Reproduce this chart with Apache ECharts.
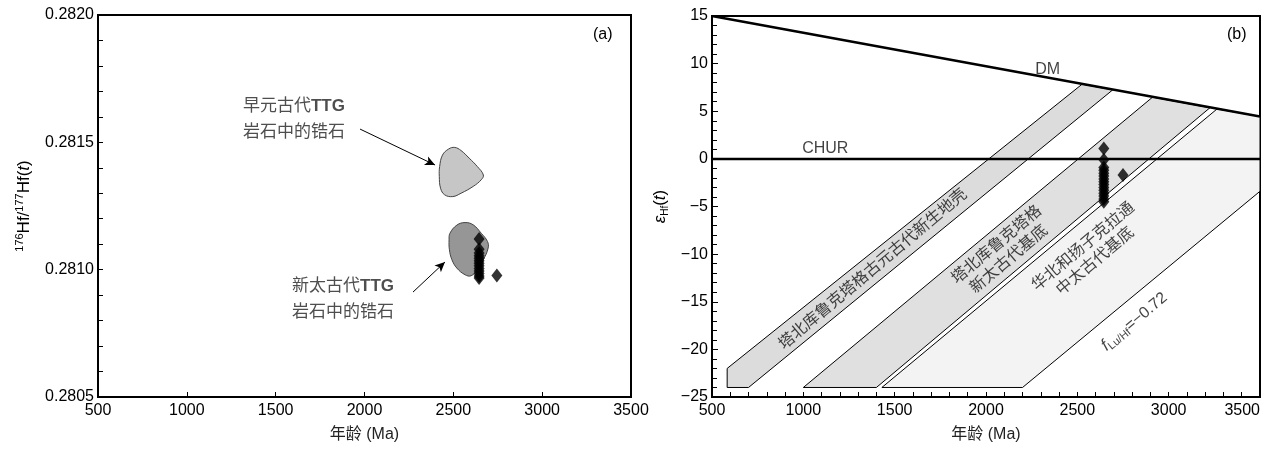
<!DOCTYPE html>
<html>
<head>
<meta charset="utf-8">
<script src="https://cdn.jsdelivr.net/npm/echarts@6/dist/echarts.min.js"></script>
<style>
  html, body { margin: 0; padding: 0; background: #fff; }
  #chart { width: 1281px; height: 450px; }
</style>
</head>
<body>
<div id="chart"></div>
<script>
// ---- (a) 176Hf/177Hf vs 年龄 ----
const earlyBlob = [
  [2421, 0.281366], [2423, 0.281405], [2439, 0.281450], [2474, 0.281474],
  [2508, 0.281480], [2543, 0.281468], [2589, 0.281438], [2635, 0.281405],
  [2669, 0.281372], [2657, 0.281353], [2612, 0.281327], [2543, 0.281300],
  [2497, 0.281287], [2451, 0.281294], [2428, 0.281320]
]
const lateBlob = [
  [2476, 0.281117], [2481, 0.281143], [2520, 0.281175], [2566, 0.281185],
  [2612, 0.281176], [2657, 0.281143], [2692, 0.281111], [2696, 0.281085],
  [2669, 0.281039], [2635, 0.281000], [2600, 0.280976], [2566, 0.280980],
  [2520, 0.281006], [2492, 0.281039], [2478, 0.281078]
]
const hfAge = 2645
const hfRatio = [0.28112, 0.28108, 0.281065, 0.281055, 0.281045, 0.281035, 0.281025,
  0.281015, 0.281005, 0.280995, 0.280985, 0.280975, 0.280967]
const hfExtra = [[2745, 0.280977]]
const notesA = [
  [1316, 0.281592, '早元古代{b|TTG}\n岩石中的锆石'],
  [1592, 0.280883, '新太古代{b|TTG}\n岩石中的锆石']
]
const arrowsA = [
  [[1975, 0.281552], [2397, 0.281411]],
  [[2273, 0.280912], [2453, 0.281030]]
]

// ---- (b) εHf(t) vs 年龄 ----
const dmLine = [[500, 15], [3500, 4.45]]
const churLine = [[500, 0], [3500, 0]]
const band1 = [[583, -22], [583, -24], [700, -24], [2694, 7.25], [2526, 7.84]]
const band2 = [[1000, -24], [1400, -24], [3226, 5.37], [2912, 6.48]]
const band3 = [[1430, -24], [2200, -24], [3500, -3.4], [3500, 4.45], [3265, 5.24]]
const epsAge = 2645
const epsHf = [1.1, -0.1, -0.9, -1.2, -1.5, -1.8, -2.1, -2.4, -2.7, -3.0, -3.3, -3.6, -3.9, -4.2, -4.5]
const epsExtra = [[2750, -1.7]]
const notesB = [
  [2338, 9.4, 'DM', 0],
  [1120, 1.1, 'CHUR', 0],
  [1382, -11.6, '塔北库鲁克塔格古元古代新生地壳', 40],
  [2093, -9.8, '塔北库鲁克塔格\n新太古代基底', 40],
  [2566, -10.0, '华北和扬子克拉通\n中太古代基底', 40],
  [2812, -17.1, '{i|f}{sub|Lu/Hf}=−0.72', 40]
]

const cjk = '"Liberation Sans", "Noto Sans CJK SC", sans-serif'

// 多边形区域（用坐标轴换算）
const polygonSeries = (pts, xi, fill, stroke, smooth) => ({
  type: 'custom',
  xAxisIndex: xi,
  yAxisIndex: xi,
  silent: true,
  z: 1,
  data: pts,
  encode: { x: 0, y: 1 },
  renderItem: (params, api) => {
    if (params.dataIndex !== 0) return
    return {
      type: 'polygon',
      shape: { points: pts.map(p => api.coord(p)), smooth: smooth },
      style: { fill: fill, stroke: stroke, lineWidth: 1 }
    }
  }
})

const baseX = (gi) => ({
  type: 'value',
  gridIndex: gi,
  min: 500,
  max: 3500,
  interval: 500,
  name: '年龄 (Ma)',
  nameLocation: 'middle',
  nameGap: 30,
  nameTextStyle: { fontSize: 16, color: '#222', fontFamily: cjk },
  axisLine: { show: true, onZero: false, lineStyle: { color: '#000', width: 2 } },
  axisTick: { show: true, inside: true, length: 5, lineStyle: { color: '#000' } },
  axisLabel: { fontSize: 16, color: '#000', margin: 6, fontFamily: cjk, formatter: v => String(v) },
  splitLine: { show: false }
})

const chart = echarts.init(document.getElementById('chart'))

const option = {
  animation: false,
  backgroundColor: '#fff',
  grid: [
    { left: 98, right: 650, top: 15, bottom: 53, show: true, borderColor: '#000', borderWidth: 2, backgroundColor: 'transparent' },
    { left: 712, right: 21, top: 16, bottom: 53, show: true, borderColor: '#000', borderWidth: 2, backgroundColor: 'transparent' }
  ],
  xAxis: [
    baseX(0),
    Object.assign(baseX(1), {
      minorTick: { show: true, splitNumber: 5, length: 5, lineStyle: { color: '#000' } },
      axisLabel: { fontSize: 16, color: '#000', margin: 6, fontFamily: cjk, alignMaxLabel: 'right', formatter: v => String(v) }
    })
  ],
  yAxis: [
    {
      type: 'value',
      gridIndex: 0,
      min: 0.2805,
      max: 0.2820,
      interval: 0.0005,
      name: '{sup|176}Hf/{sup|177}Hf({i|t})',
      nameLocation: 'middle',
      nameGap: 64,
      nameTextStyle: {
        fontSize: 17, color: '#000', fontFamily: cjk, lineHeight: 20,
        rich: {
          sup: { fontSize: 11, verticalAlign: 'top', lineHeight: 11, color: '#000' },
          i: { fontSize: 17, fontStyle: 'italic', color: '#000' }
        }
      },
      axisLine: { show: false, onZero: false },
      axisTick: { show: true, inside: true, length: 5, lineStyle: { color: '#000' } },
      minorTick: { show: true, splitNumber: 5, length: 5, lineStyle: { color: '#000' } },
      axisLabel: { fontSize: 16, color: '#000', margin: 4, fontFamily: cjk, formatter: v => v.toFixed(4) },
      splitLine: { show: false }
    },
    {
      type: 'value',
      gridIndex: 1,
      min: -25,
      max: 15,
      interval: 5,
      name: '{e|ε}{sub|Hf}({i|t})',
      nameLocation: 'middle',
      nameGap: 42,
      nameTextStyle: {
        fontSize: 17, color: '#000', fontFamily: cjk, lineHeight: 20,
        rich: {
          e: { fontSize: 17, fontStyle: 'italic', color: '#000' },
          sub: { fontSize: 10, verticalAlign: 'bottom', lineHeight: 10, color: '#000' },
          i: { fontSize: 17, fontStyle: 'italic', color: '#000' }
        }
      },
      axisLine: { show: false, onZero: false },
      axisTick: { show: true, inside: true, length: 6, lineStyle: { color: '#000' } },
      minorTick: { show: true, splitNumber: 5, length: 5, lineStyle: { color: '#000' } },
      axisLabel: { fontSize: 16, color: '#000', margin: 4, fontFamily: cjk, formatter: v => v < 0 ? '−' + Math.abs(v) : String(v) },
      splitLine: { show: false }
    }
  ],
  graphic: [
    { type: 'text', left: 593, top: 27, style: { text: '(a)', font: '16px "Liberation Sans"', fill: '#000' } },
    { type: 'text', left: 1227, top: 27, style: { text: '(b)', font: '16px "Liberation Sans"', fill: '#000' } }
  ],
  series: [
    // (a)
    polygonSeries(earlyBlob, 0, '#c6c6c6', '#444', 0.4),
    polygonSeries(lateBlob, 0, '#969696', '#444', 0.4),
    {
      type: 'scatter',
      xAxisIndex: 0,
      yAxisIndex: 0,
      symbol: 'diamond',
      symbolSize: [11, 14],
      itemStyle: { color: '#000' },
      z: 5,
      data: hfRatio.map(v => [hfAge, v]).concat(hfExtra),
      markLine: {
        silent: true,
        symbol: ['none', 'arrow'],
        symbolSize: [7, 10],
        label: { show: false },
        lineStyle: { color: '#000', width: 1, type: 'solid' },
        data: arrowsA.map(a => [{ coord: a[0] }, { coord: a[1] }])
      }
    },
    {
      type: 'scatter',
      xAxisIndex: 0,
      yAxisIndex: 0,
      symbolSize: 0,
      silent: true,
      data: notesA,
      label: {
        show: true,
        position: 'inside',
        align: 'left',
        verticalAlign: 'middle',
        fontSize: 17,
        lineHeight: 26,
        color: '#222',
        fontFamily: cjk,
        formatter: p => p.value[2],
        rich: { b: { fontSize: 17, fontWeight: 'bold', color: '#222', fontFamily: cjk } }
      }
    },
    // (b)
    polygonSeries(band1, 1, '#dcdcdc', '#000', 0),
    polygonSeries(band2, 1, '#e0e0e0', '#000', 0),
    polygonSeries(band3, 1, '#f3f3f3', '#000', 0),
    {
      type: 'line',
      xAxisIndex: 1,
      yAxisIndex: 1,
      data: dmLine,
      symbol: 'none',
      z: 3,
      lineStyle: { color: '#000', width: 2.5 }
    },
    {
      type: 'line',
      xAxisIndex: 1,
      yAxisIndex: 1,
      data: churLine,
      symbol: 'none',
      z: 3,
      lineStyle: { color: '#000', width: 2.5 }
    },
    {
      type: 'scatter',
      xAxisIndex: 1,
      yAxisIndex: 1,
      symbol: 'diamond',
      symbolSize: [11, 14],
      itemStyle: { color: '#000' },
      z: 5,
      data: epsHf.map(v => [epsAge, v]).concat(epsExtra)
    },
    {
      type: 'scatter',
      xAxisIndex: 1,
      yAxisIndex: 1,
      symbolSize: 0,
      silent: true,
      z: 6,
      data: notesB.map(n => ({
        value: [n[0], n[1], n[2]],
        label: { rotate: n[3] }
      })),
      label: {
        show: true,
        position: 'inside',
        align: 'center',
        verticalAlign: 'middle',
        fontSize: 16,
        lineHeight: 19,
        color: '#111',
        fontFamily: cjk,
        formatter: p => p.value[2],
        rich: {
          i: { fontSize: 17, fontStyle: 'italic', color: '#111', fontFamily: cjk },
          sub: { fontSize: 11, verticalAlign: 'bottom', lineHeight: 10, color: '#111', fontFamily: cjk }
        }
      }
    }
  ]
}

chart.setOption(option)
</script>
</body>
</html>
